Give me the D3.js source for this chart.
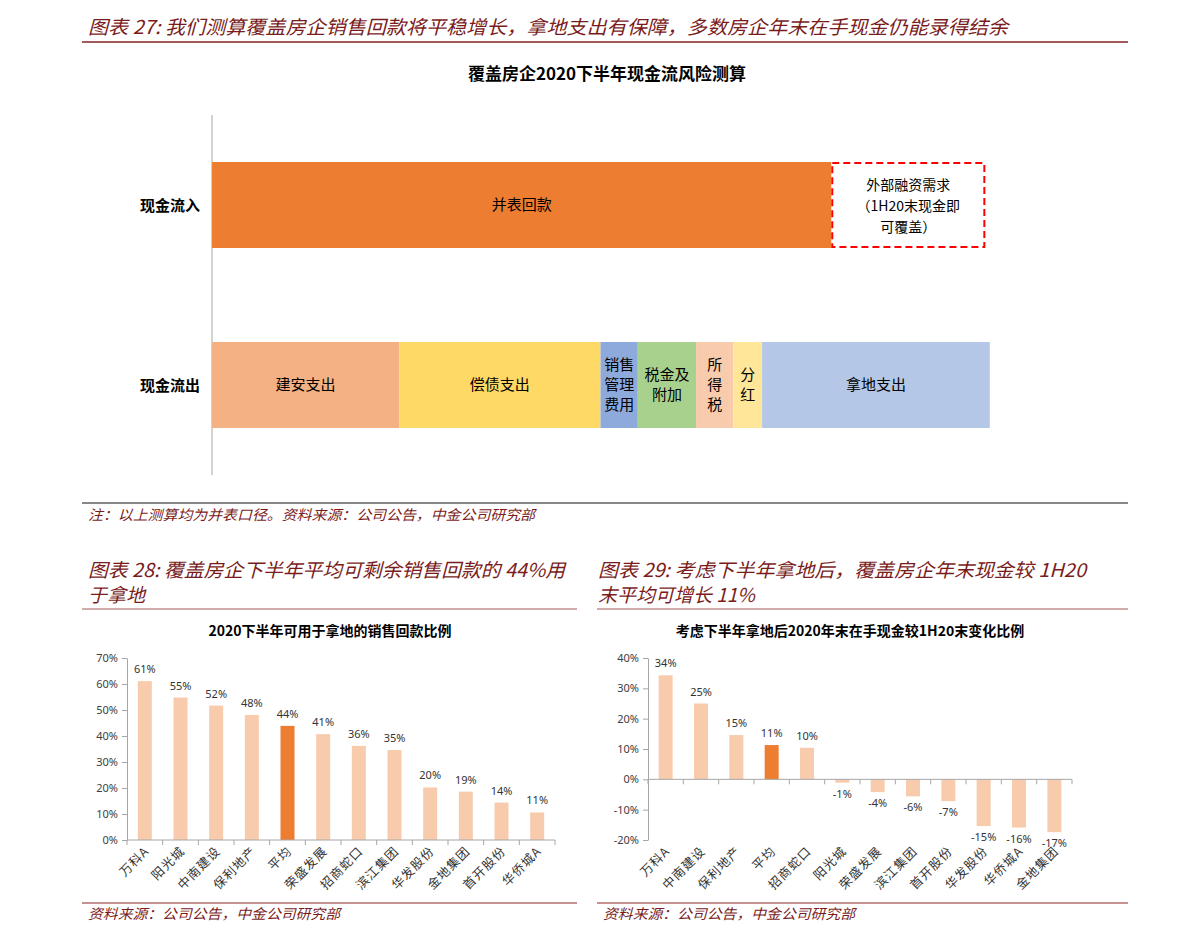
<!DOCTYPE html>
<html>
<head>
<meta charset="utf-8">
<script src="https://cdn.jsdelivr.net/npm/d3@7"></script>
<style>
  body { margin: 0; background: #fff; }
  svg { display: block; }
</style>
</head>
<body>
<div id="page"></div>
<script>
// ---- data ----
const flowCats = ["现金流入", "现金流出"];

const inflowNames = ["并表回款", "外部融资需求"];
const inflowValues = [79.7, 19.7];
const inflowLabels = [["并表回款"], ["外部融资需求", "（1H20末现金即", "可覆盖）"]];

const outflowNames = ["建安支出", "偿债支出", "销售管理费用", "税金及附加", "所得税", "分红", "拿地支出"];
const outflowValues = [24.1, 25.9, 4.8, 7.5, 4.8, 3.7, 29.3];
const outflowLabels = [["建安支出"], ["偿债支出"], ["销售", "管理", "费用"], ["税金及", "附加"], ["所", "得", "税"], ["分", "红"], ["拿地支出"]];
const outflowColors = ["#F4B183", "#FFD966", "#8EA9DB", "#A9D18E", "#F8CBAD", "#FFE699", "#B4C7E7"];

const leftNames = ["万科A", "阳光城", "中南建设", "保利地产", "平均", "荣盛发展", "招商蛇口", "滨江集团", "华发股份", "金地集团", "首开股份", "华侨城A"];
const leftValues = [0.611, 0.548, 0.517, 0.481, 0.439, 0.407, 0.362, 0.346, 0.202, 0.186, 0.144, 0.106];
const leftTicks = [0, 0.1, 0.2, 0.3, 0.4, 0.5, 0.6, 0.7];

const rightNames = ["万科A", "中南建设", "保利地产", "平均", "招商蛇口", "阳光城", "荣盛发展", "滨江集团", "首开股份", "华发股份", "华侨城A", "金地集团"];
const rightValues = [0.343, 0.250, 0.146, 0.113, 0.104, -0.011, -0.042, -0.056, -0.072, -0.154, -0.159, -0.174];
const rightTicks = [-0.2, -0.1, 0, 0.1, 0.2, 0.3, 0.4];

// ---- page ----
const W = 1191, H = 942;
const cjk = "'Noto Sans CJK SC', 'Noto Sans', sans-serif";
const num = "'Noto Sans', 'Liberation Sans', sans-serif";
const red = "#7a1c1c";
const lineRed = "#a35a5a";
const pct = v => d3.format(".0%")(v).replace("−", "-");

let svg = d3.select("#page").append("svg")
    .attr("width", W)
    .attr("height", H)
    .style("background", "#fff");

// italic dark red text (headings, notes)
function redText(x, y, txt, size, len) {
    let t = svg.append("text")
        .attr("x", x).attr("y", y)
        .attr("font-family", cjk)
        .attr("font-size", size)
        .attr("font-style", "italic")
        .attr("fill", red)
        .text(txt);
    if (len) t.attr("textLength", len).attr("lengthAdjust", "spacingAndGlyphs");
}

redText(88, 34, "图表 27: 我们测算覆盖房企销售回款将平稳增长，拿地支出有保障，多数房企年末在手现金仍能录得结余", 19, 920);
svg.append("line").attr("x1", 82).attr("x2", 1128).attr("y1", 42).attr("y2", 42)
    .attr("stroke", lineRed).attr("stroke-width", 2);

// ---- top chart ----
svg.append("text")
    .attr("x", 607).attr("y", 80)
    .attr("text-anchor", "middle")
    .attr("font-family", cjk)
    .attr("font-weight", "bold")
    .attr("font-size", 17)
    .attr("fill", "#000")
    .text("覆盖房企2020下半年现金流风险测算");

let xs = d3.scaleLinear().domain([0, 100]).range([212, 989]);
let ys = d3.scalePoint().domain(flowCats).range([115, 475]).padding(0.5);
const barH = 86;

svg.append("line")
    .attr("x1", 212).attr("x2", 212).attr("y1", 115).attr("y2", 475)
    .attr("stroke", "#a6a6a6");

svg.selectAll(".catlab").data(flowCats).join("text")
    .attr("x", 200)
    .attr("y", d => ys(d) + 6)
    .attr("text-anchor", "end")
    .attr("font-family", cjk)
    .attr("font-weight", "bold")
    .attr("font-size", 15)
    .attr("fill", "#000")
    .text(d => d);

function multiLine(cx, cy, lines, size, lh) {
    let t = svg.append("text")
        .attr("text-anchor", "middle")
        .attr("font-family", cjk)
        .attr("font-size", size)
        .attr("fill", "#000");
    let start = cy - (lines.length - 1) * lh / 2 + size * 0.36;
    lines.forEach((l, i) => {
        t.append("tspan").attr("x", cx).attr("y", start + i * lh).text(l);
    });
}

// inflow
let inY = ys("现金流入") - barH / 2;
svg.append("rect")
    .attr("x", xs(0)).attr("y", inY)
    .attr("width", xs(inflowValues[0]) - xs(0))
    .attr("height", barH)
    .attr("fill", "#ED7D31");
multiLine((xs(0) + xs(inflowValues[0])) / 2, ys("现金流入"), inflowLabels[0], 15, 20);

let boxX0 = xs(inflowValues[0]) + 1;
let boxX1 = xs(inflowValues[0] + inflowValues[1]);
svg.append("rect")
    .attr("x", boxX0).attr("y", inY + 1)
    .attr("width", boxX1 - boxX0)
    .attr("height", barH - 2)
    .attr("fill", "#fff")
    .attr("stroke", "#FF0000")
    .attr("stroke-width", 2)
    .attr("stroke-dasharray", "7,4");
multiLine((boxX0 + boxX1) / 2, ys("现金流入") + 1, inflowLabels[1], 14, 21);

// outflow stacked
let cum = 0;
let outY = ys("现金流出") - barH / 2;
outflowValues.forEach((v, i) => {
    let x0 = xs(cum), x1 = xs(cum + v);
    svg.append("rect")
        .attr("x", x0).attr("y", outY)
        .attr("width", x1 - x0).attr("height", barH)
        .attr("fill", outflowColors[i]);
    multiLine((x0 + x1) / 2, ys("现金流出"), outflowLabels[i], 15, 20);
    cum += v;
});

svg.append("line").attr("x1", 82).attr("x2", 1128).attr("y1", 503).attr("y2", 503)
    .attr("stroke", "#111").attr("stroke-width", 1);
redText(88, 520, "注：以上测算均为并表口径。资料来源：公司公告，中金公司研究部", 14, 447);

// ---- bottom charts ----
redText(88, 577, "图表 28: 覆盖房企下半年平均可剩余销售回款的 44%用", 19, 477);
redText(88, 602, "于拿地", 19);
redText(598, 577, "图表 29: 考虑下半年拿地后，覆盖房企年末现金较 1H20", 19, 488);
redText(598, 602, "末平均可增长 11%", 19);

[[82, 577], [597, 1128]].forEach(([a, b]) => {
    svg.append("line").attr("x1", a).attr("x2", b).attr("y1", 609).attr("y2", 609)
        .attr("stroke", lineRed).attr("stroke-width", 1.2);
    svg.append("line").attr("x1", a).attr("x2", b).attr("y1", 903).attr("y2", 903)
        .attr("stroke", "#8b2525").attr("stroke-width", 1.2);
    redText(a + 6, 919, "资料来源：公司公告，中金公司研究部", 14, 252);
});

function barChart(opt) {
    let g = svg.append("g");
    g.append("text")
        .attr("x", opt.titleX).attr("y", 636)
        .attr("text-anchor", "middle")
        .attr("font-family", cjk)
        .attr("font-weight", "bold")
        .attr("font-size", 14)
        .attr("fill", "#000")
        .text(opt.title);

    let x = d3.scaleBand().domain(opt.names).range([opt.x0, opt.x1]);
    let y = d3.scaleLinear().domain(opt.domain).range([840, 658]);

    // y axis
    let ya = g.append("g")
        .attr("transform", `translate(${opt.x0},0)`)
        .call(d3.axisLeft(y).tickValues(opt.ticks).tickFormat(pct).tickSize(5).tickSizeOuter(0).tickPadding(4));
    ya.select(".domain").attr("stroke", "#a6a6a6");
    ya.selectAll(".tick line").attr("stroke", "#a6a6a6");
    ya.selectAll(".tick text")
        .attr("font-family", num)
        .attr("font-size", 11)
        .attr("fill", "#404040");

    // bars
    g.selectAll(".bar").data(opt.names).join("rect")
        .attr("x", d => x(d) + (x.bandwidth() - 14) / 2)
        .attr("width", 14)
        .attr("y", (d, i) => y(Math.max(0, opt.values[i])))
        .attr("height", (d, i) => Math.abs(y(opt.values[i]) - y(0)))
        .attr("fill", d => d == "平均" ? "#ED7D31" : "#F8CBAD");

    // x axis at zero
    let y0 = y(0);
    g.append("line")
        .attr("x1", opt.x0).attr("x2", opt.x1).attr("y1", y0).attr("y2", y0)
        .attr("stroke", "#a6a6a6");
    let bounds = d3.range(opt.names.length + 1).map(i => opt.x0 + i * x.step());
    g.selectAll(".xt").data(bounds).join("line")
        .attr("x1", d => d).attr("x2", d => d)
        .attr("y1", y0).attr("y2", y0 + 5)
        .attr("stroke", "#a6a6a6");

    // value labels
    g.selectAll(".vl").data(opt.names).join("text")
        .attr("x", d => x(d) + x.bandwidth() / 2)
        .attr("y", (d, i) => opt.values[i] >= 0 ? y(opt.values[i]) - 8 : y(opt.values[i]) + 15)
        .attr("text-anchor", "middle")
        .attr("font-family", num)
        .attr("font-size", 11)
        .attr("fill", "#333")
        .text((d, i) => pct(opt.values[i]));

    // category labels
    g.selectAll(".cl").data(opt.names).join("text")
        .attr("transform", d => `translate(${x(d) + x.bandwidth() / 2 + 5},852) rotate(-45)`)
        .attr("text-anchor", "end")
        .attr("font-family", cjk)
        .attr("font-size", 12.5)
        .attr("letter-spacing", 1)
        .attr("fill", "#333")
        .text(d => d);
}

barChart({
    title: "2020下半年可用于拿地的销售回款比例",
    titleX: 330,
    names: leftNames,
    values: leftValues,
    domain: [0, 0.7],
    ticks: leftTicks,
    x0: 127, x1: 555
});

barChart({
    title: "考虑下半年拿地后2020年末在手现金较1H20末变化比例",
    titleX: 850,
    names: rightNames,
    values: rightValues,
    domain: [-0.2, 0.4],
    ticks: rightTicks,
    x0: 648, x1: 1072
});
</script>
</body>
</html>
